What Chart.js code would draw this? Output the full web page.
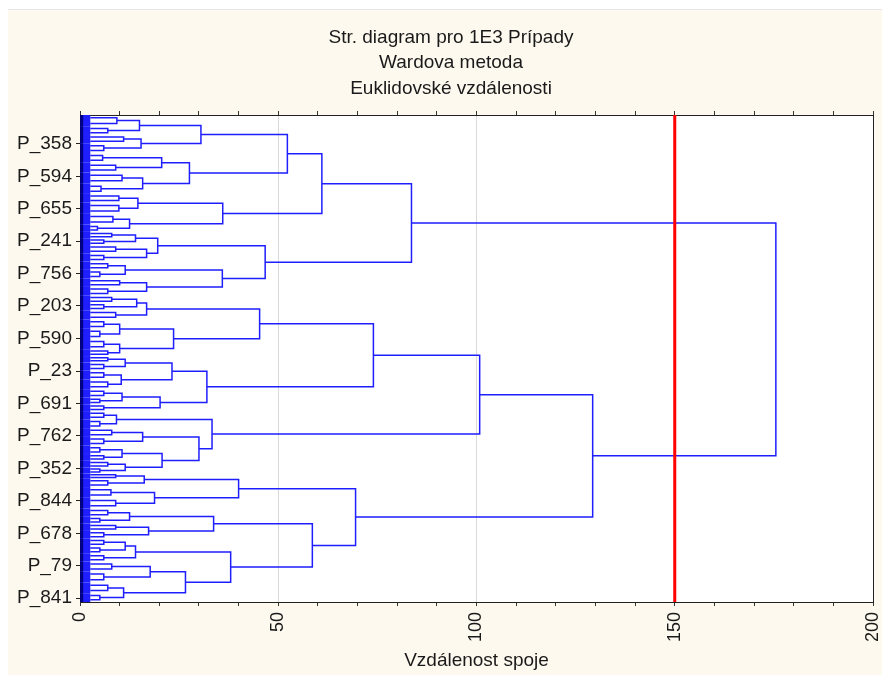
<!DOCTYPE html>
<html>
<head>
<meta charset="utf-8">
<script src="https://cdn.jsdelivr.net/npm/chart.js@4.4.0/dist/chart.umd.min.js"></script>
<style>
  html, body { margin: 0; padding: 0; background: #fff; }
  #bg { position: absolute; left: 8px; top: 9px; width: 874px; height: 666px; background: #fef9ef; border-top: 1px solid #e6e6e6; }
  #wrap { position: absolute; left: 0; top: 0; width: 882px; height: 675px; }
</style>
</head>
<body>
<div id="bg"></div>
<div id="wrap"><canvas id="tree" width="882" height="675"></canvas></div>
<script>
// lowest visible clusters, top to bottom: number of cases and joining distance
const leafCounts = [
  23, 18, 17, 20, 20, 20, 23, 21, 18, 23,
  22, 15, 13, 14, 17, 17, 17, 18, 17, 18,
  15, 15, 19, 19, 21, 21, 14, 13, 17, 18,
  20, 17, 14, 14, 17, 18, 18, 18, 17, 14,
  14, 12, 11, 17, 22, 22, 17, 14, 15, 16,
  15, 16, 16, 20, 23, 22, 18
];
const leafHeights = [
  9.3, 7, 11, 6, 5.7, 9, 10.6, 5.3, 9.8, 9.8,
  8.3, 4.4, 8, 6, 9, 6, 7, 5, 10, 7,
  8, 6, 9, 6, 5, 6, 7, 7, 6, 6,
  7, 6, 5, 6, 6, 5, 8, 6, 5, 6,
  7, 5, 9, 7, 7.8, 9, 7, 5, 9, 6,
  6, 5, 6, 8, 6, 7, 5
];
// merges: [distance, upper child, lower child]; new cluster ids start at leafCounts.length
const merges = [
  [15, 0, 1], [15.4, 2, 3], [30.5, 57, 58], [20.6, 4, 5], [15.8, 6, 7],
  [27.6, 60, 61], [52.3, 59, 62], [14.6, 8, 9], [12.5, 10, 11], [36, 64, 65],
  [61, 63, 66], [14, 12, 13], [16.8, 14, 15], [19.6, 68, 69], [11.4, 16, 17],
  [16.8, 18, 19], [35.9, 71, 72], [46.7, 70, 73], [83.6, 67, 74], [14.3, 20, 21],
  [16.8, 76, 22], [10, 23, 24], [10, 25, 26], [23.6, 78, 79], [45.3, 77, 80],
  [11.4, 27, 28], [10.4, 29, 30], [23.2, 82, 83], [10.6, 31, 32], [20.2, 85, 33],
  [32, 84, 86], [74, 81, 87], [9.2, 34, 35], [15.8, 36, 37], [10.6, 38, 39],
  [11.4, 40, 41], [20.7, 91, 92], [30, 90, 93], [33.3, 89, 94], [100.8, 88, 95],
  [16.2, 42, 43], [18.8, 44, 45], [40, 97, 98], [12.5, 46, 47], [17.3, 48, 49],
  [33.7, 100, 101], [11.4, 50, 51], [14, 103, 52], [17.7, 53, 54], [11, 55, 56],
  [26.6, 105, 106], [38, 104, 107], [58.6, 102, 108], [69.5, 99, 109], [129.3, 96, 110],
  [175.5, 75, 111]
];
const labelLeaves = [59, 126, 192, 259, 326, 392, 459, 526, 592, 659, 726, 792, 859, 926, 992];
const labelNames = ["P_358", "P_594", "P_655", "P_241", "P_756", "P_203", "P_590", "P_23",
                    "P_691", "P_762", "P_352", "P_844", "P_678", "P_79", "P_841"];
const cutDistance = 150;
const titleLines = ["Str. diagram pro 1E3 Prípady", "Wardova metoda", "Euklidovské vzdálenosti"];

const totalCases = leafCounts.reduce((a, b) => a + b, 0);
const blockEdge = 2.6;
const font = "'Liberation Sans', Arial, sans-serif";

// layout of the tree
const starts = [], nodeY = [], nodeH = [];
let cum = 0;
leafCounts.forEach((n, i) => {
  starts[i] = cum;
  nodeY[i] = cum + n / 2;
  nodeH[i] = leafHeights[i];
  cum += n;
});
merges.forEach(([h, a, b], k) => {
  const id = leafCounts.length + k;
  nodeY[id] = (nodeY[a] + nodeY[b]) / 2;
  nodeH[id] = h;
});

const linkPoints = [];
function addPath(list) {
  list.forEach(p => linkPoints.push(p));
  linkPoints.push({x: null, y: null});
}
leafCounts.forEach((n, i) => {
  const y1 = starts[i] + n / 4, y2 = starts[i] + 3 * n / 4;
  addPath([{x: blockEdge, y: y1}, {x: leafHeights[i], y: y1}, {x: leafHeights[i], y: y2}, {x: blockEdge, y: y2}]);
});
merges.forEach(([h, a, b]) => {
  addPath([{x: nodeH[a], y: nodeY[a]}, {x: h, y: nodeY[a]}, {x: h, y: nodeY[b]}, {x: nodeH[b], y: nodeY[b]}]);
});

const plotBackground = {
  id: 'plotBackground',
  beforeDraw(chart) {
    const {ctx, chartArea: a} = chart;
    ctx.save();
    ctx.fillStyle = '#ffffff';
    ctx.fillRect(a.left, a.top, a.right - a.left, a.bottom - a.top);
    ctx.fillStyle = '#1a1a1a';
    ctx.font = "19px " + font;
    ctx.textAlign = 'center';
    ctx.textBaseline = 'middle';
    titleLines.forEach((t, i) => ctx.fillText(t, 451, 37.5 + i * 25.5));
    ctx.restore();
  }
};

// the dense low part of the tree
const leafBlocks = {
  id: 'leafBlocks',
  beforeDatasetsDraw(chart) {
    const {ctx, scales: {x, y}} = chart;
    ctx.save();
    leafCounts.forEach((n, i) => {
      const top = y.getPixelForValue(starts[i]);
      const bot = y.getPixelForValue(starts[i] + n);
      const x0 = x.getPixelForValue(0);
      ctx.fillStyle = '#1e1eff';
      ctx.fillRect(x0, top, x.getPixelForValue(blockEdge) - x0, bot - top);
      ctx.fillStyle = '#000080';
      ctx.fillRect(x0, top, x.getPixelForValue(0.8) - x0, bot - top);
    });
    ctx.restore();
  }
};

new Chart(document.getElementById('tree'), {
  type: 'scatter',
  data: {
    datasets: [
      {
        data: [{x: cutDistance, y: 0}, {x: cutDistance, y: totalCases}],
        showLine: true,
        borderColor: '#ff0000',
        borderWidth: 3,
        pointRadius: 0,
        order: 0
      },
      {
        data: linkPoints,
        showLine: true,
        spanGaps: false,
        borderColor: 'rgb(30,30,255)',
        borderWidth: 1.5,
        pointRadius: 0,
        order: 1
      }
    ]
  },
  options: {
    responsive: false,
    animation: false,
    devicePixelRatio: 1,
    layout: { padding: { left: 0, right: 9, top: 109, bottom: 0 } },
    plugins: {
      legend: { display: false },
      tooltip: { enabled: false },
      title: { display: false }
    },
    scales: {
      x: {
        type: 'linear',
        position: 'bottom',
        min: 0,
        max: 200,
        afterFit(s) { s.height = 73; s.paddingLeft = 0; s.paddingRight = 0; },
        ticks: {
          stepSize: 10,
          autoSkip: false,
          minRotation: 90,
          maxRotation: 90,
          padding: 6,
          color: '#1a1a1a',
          font: { family: font, size: 18 },
          callback: v => (v % 50 === 0 ? v : '')
        },
        grid: {
          color: c => (c.tick && c.tick.value % 50 === 0 ? '#dadada' : 'rgba(0,0,0,0)'),
          tickColor: '#333',
          tickLength: 4
        },
        border: { color: '#222', width: 1 },
        title: {
          display: true,
          text: 'Vzdálenost spoje',
          color: '#1a1a1a',
          font: { family: font, size: 19 },
          padding: { top: 0, bottom: 3 }
        }
      },
      x2: {
        type: 'linear',
        position: 'top',
        min: 0,
        max: 200,
        afterFit(s) { s.height = 6; s.paddingLeft = 0; s.paddingRight = 0; },
        ticks: { display: false, stepSize: 10 },
        grid: { drawOnChartArea: false, tickColor: '#333', tickLength: 4 },
        border: { color: '#222', width: 1 }
      },
      y: {
        type: 'linear',
        min: 0,
        max: totalCases,
        reverse: true,
        afterFit(s) { s.width = 80; s.paddingTop = 0; s.paddingBottom = 0; },
        afterBuildTicks(s) { s.ticks = labelLeaves.map(v => ({value: v})); },
        ticks: {
          autoSkip: false,
          padding: 4,
          color: '#1a1a1a',
          font: { family: font, size: 19 },
          callback: (v, i) => labelNames[i]
        },
        grid: { drawOnChartArea: false, tickColor: '#222', tickLength: 4 },
        border: { color: '#222', width: 1 }
      },
      y2: {
        type: 'linear',
        position: 'right',
        min: 0,
        max: totalCases,
        afterFit(s) { s.width = 0; s.paddingTop = 0; s.paddingBottom = 0; },
        ticks: { display: false },
        grid: { drawOnChartArea: false, drawTicks: false },
        border: { color: '#222', width: 1 }
      }
    }
  },
  plugins: [plotBackground, leafBlocks]
});
</script>
</body>
</html>
